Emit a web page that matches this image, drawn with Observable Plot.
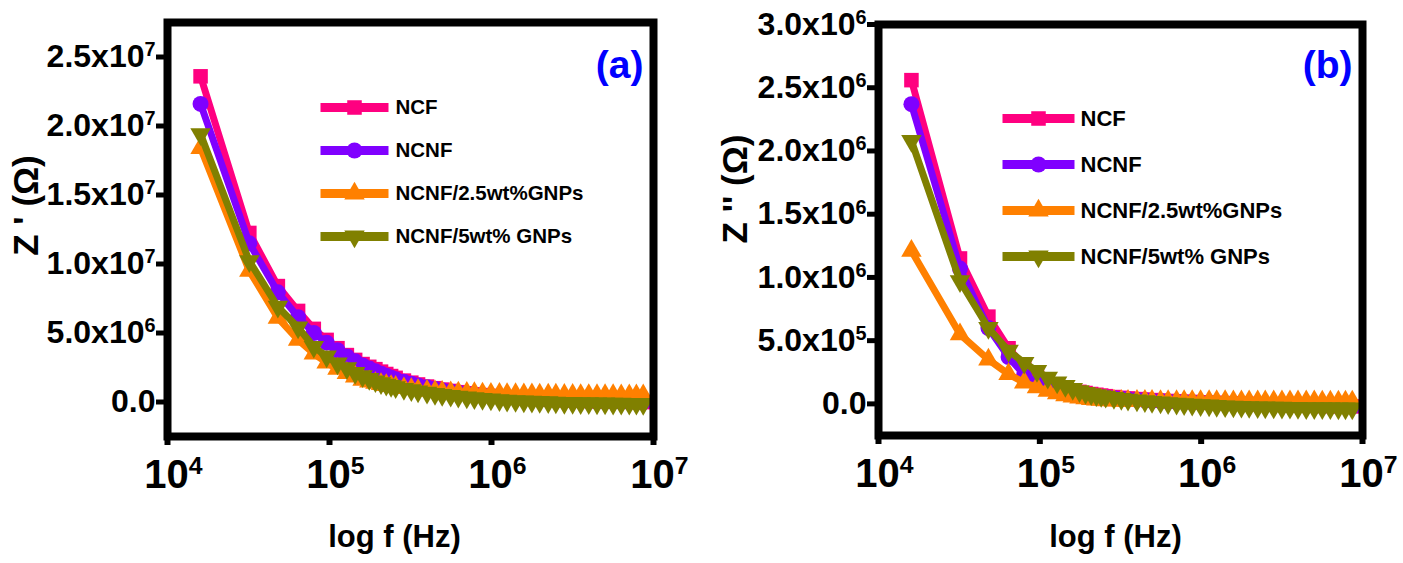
<!DOCTYPE html>
<html>
<head>
<meta charset="utf-8">
<script src="https://cdn.jsdelivr.net/npm/d3@7"></script>
<script src="https://cdn.jsdelivr.net/npm/@observablehq/plot@0.6"></script>
<style>
  body { margin: 0; background: #fff; }
  #charts { display: flex; width: 1403px; height: 563px; }
  #charts svg { font-family: "Liberation Sans", Arial, sans-serif; font-weight: bold; overflow: visible; }
</style>
</head>
<body>
<div id="charts"></div>
<script>
// Sample names, colours and marker shapes
const SERIES = ["NCF", "NCNF", "NCNF/2.5wt%GNPs", "NCNF/5wt% GNPs"];
const COLORS = ["#ff0080", "#8000ff", "#ff8000", "#808000"];

// Measurement frequencies (Hz)
const freqHz = [
  16e3, 32e3, 48e3, 64e3, 80e3, 96e3, 112e3, 128e3, 144e3, 160e3,
  176e3, 192e3, 208e3, 224e3, 240e3, 256e3, 288e3, 320e3, 352e3, 400e3,
  448e3, 496e3, 560e3, 624e3, 704e3, 784e3, 880e3, 992e3, 1.12e6, 1.248e6,
  1.408e6, 1.584e6, 1.776e6, 1.984e6, 2.24e6, 2.496e6, 2.816e6, 3.168e6, 3.552e6, 3.984e6,
  4.48e6, 5.024e6, 5.632e6, 6.32e6, 7.088e6, 7.84e6, 8.64e6
];

// Real part Z' (MΩ), one list per sample
const zRe_NCF = [
  23.6, 12.25, 8.4, 6.6, 5.3, 4.5, 3.9, 3.4, 3.05, 2.75,
  2.55, 2.38, 2.2, 2.03, 1.88, 1.75, 1.55, 1.4, 1.27, 1.12,
  1.0, 0.9, 0.8, 0.71, 0.63, 0.56, 0.5, 0.44, 0.39, 0.35,
  0.31, 0.27, 0.24, 0.21, 0.18, 0.15, 0.13, 0.11, 0.09, 0.07,
  0.05, 0.04, 0.03, 0.02, 0.01, 0.0, -0.01
];
const zRe_NCNF = [
  21.6, 11.5, 7.95, 6.15, 5.0, 4.3, 3.75, 3.3, 2.95, 2.65,
  2.42, 2.22, 2.05, 1.9, 1.76, 1.64, 1.46, 1.32, 1.2, 1.06,
  0.95, 0.86, 0.76, 0.68, 0.6, 0.53, 0.47, 0.42, 0.37, 0.33,
  0.29, 0.25, 0.22, 0.19, 0.16, 0.14, 0.12, 0.1, 0.08, 0.06,
  0.05, 0.04, 0.03, 0.02, 0.01, 0.0, -0.01
];
const zRe_GNP25 = [
  18.4, 9.5, 6.1, 4.5, 3.5, 2.85, 2.4, 2.1, 1.85, 1.6,
  1.48, 1.38, 1.3, 1.23, 1.16, 1.1, 1.0, 0.93, 0.87, 0.81,
  0.77, 0.74, 0.71, 0.68, 0.66, 0.64, 0.62, 0.6, 0.59, 0.58,
  0.57, 0.56, 0.55, 0.54, 0.53, 0.53, 0.52, 0.52, 0.51, 0.51,
  0.5, 0.5, 0.5, 0.49, 0.49, 0.49, 0.48
];
const zRe_GNP5 = [
  19.4, 10.2, 6.9, 5.4, 4.0, 3.3, 2.8, 2.45, 2.1, 1.87,
  1.67, 1.5, 1.37, 1.26, 1.16, 1.08, 0.95, 0.85, 0.77, 0.67,
  0.59, 0.52, 0.45, 0.39, 0.33, 0.28, 0.23, 0.18, 0.14, 0.1,
  0.07, 0.04, 0.02, 0.0, -0.02, -0.04, -0.06, -0.07, -0.08, -0.09,
  -0.1, -0.11, -0.12, -0.12, -0.13, -0.13, -0.14
];

// Imaginary part Z'' (MΩ), one list per sample
const zIm_NCF = [
  2.56, 1.15, 0.69, 0.44, 0.3, 0.22, 0.17, 0.14, 0.12, 0.105,
  0.095, 0.086, 0.078, 0.072, 0.066, 0.061, 0.054, 0.048, 0.043, 0.038,
  0.034, 0.03, 0.026, 0.023, 0.02, 0.017, 0.015, 0.012, 0.01, 0.008,
  0.006, 0.004, 0.002, 0.0, -0.002, -0.004, -0.006, -0.008, -0.01, -0.012,
  -0.014, -0.015, -0.016, -0.017, -0.018, -0.019, -0.02
];
const zIm_NCNF = [
  2.37, 1.07, 0.6, 0.37, 0.23, 0.17, 0.13, 0.11, 0.095, 0.085,
  0.077, 0.07, 0.064, 0.059, 0.055, 0.051, 0.045, 0.04, 0.036, 0.032,
  0.028, 0.025, 0.022, 0.019, 0.016, 0.014, 0.012, 0.01, 0.008, 0.006,
  0.004, 0.002, 0.0, -0.002, -0.004, -0.006, -0.008, -0.01, -0.012, -0.014,
  -0.015, -0.016, -0.017, -0.018, -0.019, -0.02, -0.021
];
const zIm_GNP25 = [
  1.21, 0.55, 0.35, 0.235, 0.168, 0.13, 0.103, 0.083, 0.068, 0.057,
  0.049, 0.043, 0.038, 0.034, 0.031, 0.029, 0.026, 0.025, 0.024, 0.024,
  0.024, 0.024, 0.023, 0.023, 0.023, 0.023, 0.022, 0.022, 0.022, 0.022,
  0.022, 0.021, 0.021, 0.021, 0.021, 0.021, 0.02, 0.02, 0.02, 0.02,
  0.02, 0.02, 0.019, 0.019, 0.019, 0.019, 0.019
];
const zIm_GNP5 = [
  2.08, 0.97, 0.6, 0.42, 0.325, 0.26, 0.208, 0.17, 0.142, 0.118,
  0.1, 0.087, 0.077, 0.069, 0.062, 0.056, 0.047, 0.04, 0.034, 0.027,
  0.021, 0.016, 0.011, 0.006, 0.002, -0.002, -0.006, -0.01, -0.013, -0.016,
  -0.019, -0.021, -0.023, -0.025, -0.027, -0.028, -0.029, -0.03, -0.031, -0.032,
  -0.033, -0.033, -0.034, -0.034, -0.035, -0.035, -0.035
];

// Axis ticks
const xTicks = [1e4, 1e5, 1e6, 1e7];
const yTicksRe = [0, 5e6, 1e7, 1.5e7, 2e7, 2.5e7];
const yTicksIm = [0, 5e5, 1e6, 1.5e6, 2e6, 2.5e6, 3e6];

// Downward-pointing triangle (mirror of d3.symbolTriangle)
const triangleDown = {
  draw(ctx, size) {
    const y = -Math.sqrt(size / (Math.sqrt(3) * 3));
    ctx.moveTo(0, -y * 2);
    ctx.lineTo(-Math.sqrt(3) * y, y);
    ctx.lineTo(Math.sqrt(3) * y, y);
    ctx.closePath();
  }
};
const SYMBOLS = ["square", "circle", "triangle", triangleDown];
const RADII = [8.2, 8, 7.6, 7.6];

// Short thick bar used as the line sample in the legend
const legendBar = (len, thick) => ({
  draw(ctx) { ctx.rect(-len / 2, -thick / 2, len, thick); }
});

const fmtX = d => "10^" + Math.round(Math.log10(d));
const fmtY = d => {
  if (d === 0) return "0.0";
  const e = Math.floor(Math.log10(d));
  return (d / 10 ** e).toFixed(1) + "x10^" + e;
};

// Turn "a^b" labels into a base plus raised exponent
function superscripts(svg) {
  svg.querySelectorAll("text").forEach(t => {
    const s = t.textContent;
    if (!s.includes("^")) return;
    const [base, exp] = s.split("^");
    t.textContent = base;
    const sup = document.createElementNS("http://www.w3.org/2000/svg", "tspan");
    sup.setAttribute("dy", "-0.55em");
    sup.setAttribute("font-size", "0.62em");
    sup.textContent = exp;
    t.appendChild(sup);
  });
}

function panel(cfg) {
  const marks = [];
  cfg.values.forEach((vals, i) => {
    const rows = freqHz.map((f, j) => ({ f, z: vals[j] * 1e6 }));
    marks.push(Plot.line(rows, { x: "f", y: "z", stroke: COLORS[i], strokeWidth: 7, strokeLinejoin: "round" }));
    marks.push(Plot.dot(rows, { x: "f", y: "z", symbol: SYMBOLS[i], r: RADII[i], fill: COLORS[i], stroke: "none" }));
  });
  const L = cfg.legend;
  SERIES.forEach((name, i) => {
    const dy = L.y0 + i * L.step;
    marks.push(Plot.dot([name], { frameAnchor: "top-left", dx: L.cx, dy, symbol: legendBar(L.len, 9), r: 5, fill: COLORS[i] }));
    marks.push(Plot.dot([name], { frameAnchor: "top-left", dx: L.cx, dy, symbol: SYMBOLS[i], r: RADII[i], fill: COLORS[i] }));
    marks.push(Plot.text([name], { frameAnchor: "top-left", dx: L.tx, dy, text: d => d, textAnchor: "start", lineAnchor: "middle", fontSize: L.fs, fontWeight: "bold", fill: "black" }));
  });
  marks.push(Plot.text([cfg.tag], { frameAnchor: "top-right", dx: cfg.tagDx, dy: cfg.tagDy, text: d => d, textAnchor: "end", lineAnchor: "middle", fontSize: 39, fontWeight: "bold", fill: "#0000ff" }));
  marks.push(Plot.text([cfg.xTitle], { frameAnchor: "bottom", dx: cfg.xtDx, dy: cfg.xtDy, text: d => d, textAnchor: "middle", lineAnchor: "middle", fontSize: 31, fontWeight: "bold" }));
  marks.push(Plot.text([cfg.yTitle], { frameAnchor: "left", dx: cfg.ytDx, dy: cfg.ytDy, rotate: -90, text: d => d, textAnchor: "middle", lineAnchor: "middle", fontSize: 35, fontWeight: "bold" }));
  // x axis: tick marks, then the decade labels nudged so "10" sits over the tick
  marks.push(Plot.axisX(xTicks, { tickSize: 9, strokeWidth: 6, tickFormat: () => "", label: null }));
  marks.push(Plot.axisX(xTicks, { tickSize: 0, tickPadding: 23, dx: 6, fontSize: 40, tickFormat: fmtX, label: null }));
  marks.push(Plot.axisY(cfg.yTicks, { tickSize: 11, tickPadding: 1, strokeWidth: 5, fontSize: 32, tickFormat: fmtY, label: null }));
  marks.push(Plot.frame({ stroke: "black", strokeWidth: 8 }));

  const svg = Plot.plot({
    width: cfg.width,
    height: 563,
    marginLeft: cfg.m[0], marginRight: cfg.m[1], marginTop: cfg.m[2], marginBottom: cfg.m[3],
    x: { type: "log", domain: [1e4, 1e7] },
    y: { domain: cfg.yDomain },
    style: { fontFamily: "'Liberation Sans', Arial, sans-serif", fontWeight: "bold", color: "black", background: "white" },
    marks
  });
  superscripts(svg);
  return svg;
}

const charts = document.getElementById("charts");
charts.appendChild(panel({
  width: 700, m: [167, 47, 22, 127],
  values: [zRe_NCF, zRe_NCNF, zRe_GNP25, zRe_GNP5],
  yDomain: [-2.5e6, 2.75e7], yTicks: yTicksRe,
  legend: { cx: 187, len: 68, tx: 228, y0: 85, step: 43, fs: 20.5 },
  tag: "(a)", tagDx: -10, tagDy: 43,
  xTitle: "log f (Hz)", xtDx: -16, xtDy: 101,
  yTitle: "Z ' (Ω)", ytDx: -141, ytDy: -24
}));
charts.appendChild(panel({
  width: 703, m: [178, 41, 24, 128],
  values: [zIm_NCF, zIm_NCNF, zIm_GNP25, zIm_GNP5],
  yDomain: [-2.5e5, 3e6], yTicks: yTicksIm,
  legend: { cx: 160, len: 72, tx: 202, y0: 94, step: 46, fs: 22 },
  tag: "(b)", tagDx: -10, tagDy: 41,
  xTitle: "log f (Hz)", xtDx: -5, xtDy: 102,
  yTitle: "Z '' (Ω)", ytDx: -143, ytDy: -41
}));
</script>
</body>
</html>
